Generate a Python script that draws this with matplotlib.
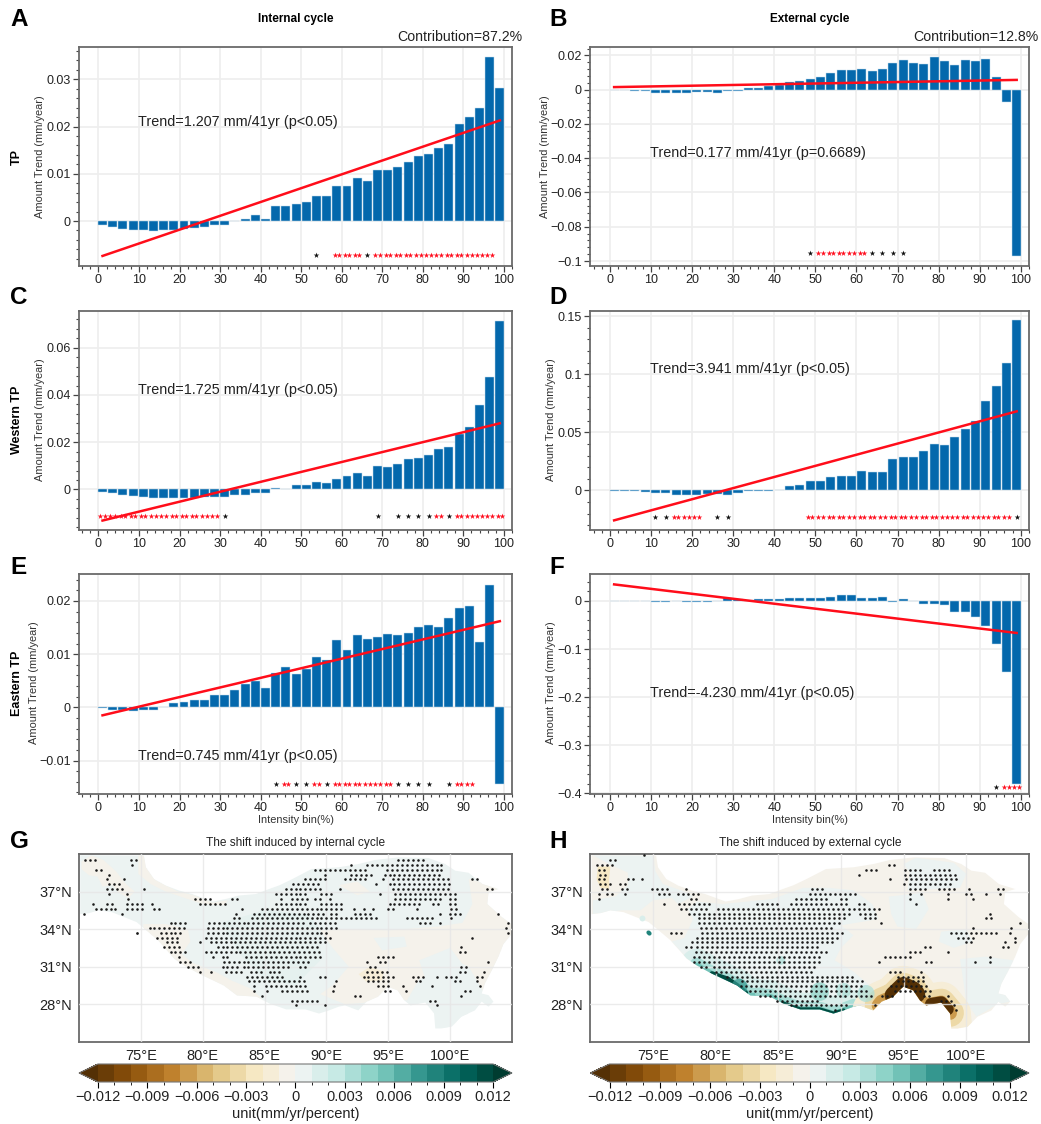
import matplotlib
matplotlib.use('Agg')
import matplotlib.pyplot as plt
import numpy as np
from matplotlib.colors import BoundaryNorm
from matplotlib.patches import Polygon

plt.rcParams['font.family'] = ['Liberation Sans', 'DejaVu Sans']

W, H = 1041, 1124

# bar panels: 40 intensity bins
n_bins = 40
a_vals = [-0.0008, -0.0012, -0.0016, -0.0018, -0.0020, -0.0021, -0.0020, -0.0018, -0.0016, -0.0015,
          -0.0012, -0.0008, -0.0008, -0.0001, 0.0005, 0.0013, 0.0005, 0.0032, 0.0032, 0.0035,
          0.0041, 0.0053, 0.0052, 0.0075, 0.0075, 0.0091, 0.0085, 0.0108, 0.0108, 0.0114,
          0.0126, 0.0137, 0.0142, 0.0155, 0.0164, 0.0205, 0.0220, 0.0239, 0.0347, 0.0281]
b_vals = [-0.0003, -0.0004, -0.0005, -0.0007, -0.0018, -0.0020, -0.0021, -0.0019, -0.0016, -0.0013,
          -0.0021, -0.0005, -0.0008, 0.0007, 0.0012, 0.0022, 0.0025, 0.0046, 0.0051, 0.0064,
          0.0074, 0.0097, 0.0114, 0.0117, 0.0119, 0.0107, 0.0118, 0.0153, 0.0175, 0.0155,
          0.0152, 0.0190, 0.0167, 0.0143, 0.0175, 0.0165, 0.0180, 0.0075, -0.0073, -0.0970]
c_vals = [-0.0012, -0.0017, -0.0022, -0.0027, -0.0033, -0.0035, -0.0036, -0.0038, -0.0037, -0.0035,
          -0.0033, -0.0033, -0.0032, -0.0025, -0.0023, -0.0016, -0.0016, 0.0007, 0.0003, 0.0019,
          0.0018, 0.0031, 0.0029, 0.0043, 0.0055, 0.0071, 0.0058, 0.0098, 0.0096, 0.0108,
          0.0130, 0.0135, 0.0145, 0.0172, 0.0180, 0.0235, 0.0263, 0.0356, 0.0475, 0.0715]
d_vals = [-0.0004, -0.0007, -0.0007, -0.0017, -0.0023, -0.0025, -0.0038, -0.0040, -0.0040, -0.0033,
          -0.0033, -0.0040, -0.0024, -0.0006, -0.0004, -0.0002, 0.0007, 0.0035, 0.0045, 0.0077,
          0.0080, 0.0112, 0.0124, 0.0124, 0.0163, 0.0155, 0.0160, 0.0272, 0.0288, 0.0288,
          0.0340, 0.0402, 0.0394, 0.0460, 0.0525, 0.0595, 0.0768, 0.0900, 0.1095, 0.1462]
e_vals = [-0.0001, -0.0005, -0.0005, -0.0006, -0.0005, -0.0005, 0.0001, 0.0008, 0.0010, 0.0014,
          0.0014, 0.0023, 0.0023, 0.0033, 0.0044, 0.0050, 0.0036, 0.0064, 0.0076, 0.0063,
          0.0072, 0.0094, 0.0089, 0.0126, 0.0108, 0.0136, 0.0129, 0.0133, 0.0137, 0.0136,
          0.0140, 0.0151, 0.0155, 0.0151, 0.0168, 0.0186, 0.0191, 0.0123, 0.0231, -0.0144]
f_vals = [-0.0005, -0.0004, -0.0010, -0.0010, -0.0012, -0.0015, -0.0005, -0.0012, -0.0015, -0.0015,
          0.0003, 0.0055, 0.0035, 0.0015, 0.0040, 0.0040, 0.0050, 0.0060, 0.0058, 0.0052,
          0.0065, 0.0090, 0.0120, 0.0125, 0.0068, 0.0072, 0.0075, -0.0012, 0.0050, -0.0010,
          -0.0055, -0.0060, -0.0085, -0.0225, -0.0220, -0.0340, -0.0510, -0.0895, -0.1480, -0.3800]

# trend line ends at bins 1 and 99
a_line = [-0.0074, 0.0213]
b_line = [0.0015, 0.0057]
c_line = [-0.0132, 0.0280]
d_line = [-0.0258, 0.0680]
e_line = [-0.0015, 0.0162]
f_line = [0.0345, -0.0665]

# significant bins (index), black = weak, red = strong
a_black = [21, 26]
a_red = [23, 24, 25] + list(range(27, 39))
b_black = [19, 25, 26, 27, 28]
b_red = [20, 21, 22, 23, 24]
c_black = [12, 27, 29, 30, 31, 32, 34]
c_red = list(range(0, 12)) + [33, 35, 36, 37, 38, 39]
d_black = [4, 5, 10, 11, 39]
d_red = [6, 7, 8] + list(range(19, 39))
e_black = [17, 19, 20, 22, 29, 30, 31, 32, 34]
e_red = [18, 21, 23, 24, 25, 26, 27, 28, 35, 36]
f_black = [37]
f_red = [38, 39]

# Tibetan Plateau outline
tp_lon = [70.1, 75.25, 75.4, 76.06, 77.0, 78.09, 79.16, 80.8, 81.86, 82.9, 84.3, 85.36, 86.2, 87.25, 88.8, 91.0, 92.6,
          93.9, 95.8, 98.24, 99.6, 100.4, 101.5, 102.6, 103.9, 103.1, 103.0, 104.17, 104.95, 104.95, 104.3, 103.9,
          103.36, 102.8, 102.55, 103.1, 103.5, 103.1, 102.55, 102.0, 100.9, 100.1, 99.3, 98.8, 98.7, 98.0, 96.8, 96.3,
          95.76, 94.97, 94.17, 93.24, 92.57, 91.5, 91.0, 90.2, 89.4, 88.3, 86.75, 85.4, 84.36, 82.77, 81.7, 79.7, 78.5,
          77.7, 76.4, 75.3, 74.65, 74.0, 72.66, 71.6, 70.8, 70.1]
tp_lat = [39.9, 39.87, 38.94, 38.0, 37.48, 37.08, 36.8, 36.2, 36.4, 36.68, 36.8, 37.2, 37.5, 38.0, 38.8, 38.94, 39.2,
          39.52, 39.73, 39.68, 39.2, 38.67, 38.5, 37.6, 37.2, 36.95, 36.0, 34.96, 34.4, 33.6, 32.8, 31.8,
          30.7, 29.65, 28.85, 28.72, 28.2, 27.8, 28.2, 27.5, 27.0, 26.2, 26.06, 26.06, 27.26, 28.13, 27.9, 28.3,
          29.1, 29.4, 28.6, 28.2, 27.5, 27.9, 27.8, 27.5, 27.25, 27.58, 27.58, 28.05, 28.6, 28.7, 29.5, 30.44, 31.1,
          31.64, 33.1, 34.03, 34.56, 34.82, 35.35, 35.5, 35.27, 35.2]

# pale field of each map: base value, then (value, lons, lats)
g_base = 0.0005
g_patches = [
    (-0.0005, [75.2, 75.5, 76.2, 78, 79.3, 80.8, 82, 81.8, 80, 78.5, 77, 75.8, 74.8, 74.8],
     [39.95, 38.8, 37.9, 37, 36.7, 36.1, 36.3, 35.9, 36, 36.5, 37, 37.6, 38.4, 39.95]),
    (-0.0005, [70.2, 71, 72, 73, 73.8, 74.5, 74, 73.2, 72.7, 71.9, 71.5, 70.8, 70.2],
     [39.4, 39.9, 39.5, 38.6, 37.6, 37, 36.5, 36.9, 37.5, 37.4, 38.2, 38.3, 38.8]),
    (-0.0005, [75.2, 77, 78.8, 79, 78.3, 79.2, 81.2, 82.3, 84, 85, 84, 82.5, 81.7, 79.7, 77.7, 76.3, 75.2],
     [34.4, 34.4, 34, 33, 32, 31.3, 30.5, 29.9, 29.2, 28.2, 28.2, 28.6, 29.4, 30.3, 31.5, 33, 34]),
    (-0.0005, [89.5, 92, 95, 99, 101, 101.8, 101.5, 103.5, 105, 105, 103, 102.7, 101.5, 100.4, 99, 97.5, 96.5, 94.5, 93,
               91.5, 89.5, 90.5, 91.8, 90.5],
     [33.9, 34, 33.9, 34.2, 34.5, 36, 38, 37.5, 36, 33, 30, 29, 31, 31.5, 30.5, 30, 28.3, 28.5, 28.1, 28, 28.8, 29.5,
      31, 32.5]),
    (-0.0005, [91, 92.5, 93.5, 92.5], [37.5, 37.8, 37, 36.7]),
    (0.0005, [93.8, 96.3, 96.5, 94.5], [33.3, 33.4, 32.6, 32.3]),
    (0.0005, [97.5, 100, 101, 100.8, 99.8, 98.5, 98], [31.5, 32.5, 31.2, 28.5, 27.7, 28.6, 30]),
    (0.0005, [99.5, 101.5, 100.5, 99.4], [27.2, 27.3, 26.3, 26.1]),
    (-0.0012, [92.6, 93.5, 94.6, 94.5, 93.2], [30.4, 31, 30.6, 29.9, 29.8]),
]
g_core_lon = [81.5, 85, 88.5, 89.5, 89.5, 87.5, 85, 83]
g_core_lat = [34.5, 35.5, 35.2, 34, 31.5, 29.5, 30, 32]
h_base = -0.0005
h_patches = [
    (0.0005, [70.2, 75, 75.2, 75.8, 77.5, 78.2, 77, 76.5, 75, 74, 72.5, 71, 70.2, 70.2, 72, 73, 73, 71.5],
     [39.9, 39.9, 38.6, 37.6, 37, 36.6, 36, 36.5, 36.3, 35.5, 35.5, 35.3, 35.2, 36.3, 36.6, 37.5, 38.5, 39.2]),
    (0.0005, [78.5, 80.5, 82.5, 84.5, 87, 89, 91, 92.5, 93, 90, 91, 90, 89.5, 91, 92.3, 92.6, 91, 88, 85, 83, 81, 79,
              77.5, 76.5, 77.5, 78.2, 77.8],
     [36.2, 36, 36.2, 36.4, 37.3, 37.3, 37.1, 36, 34.8, 34.3, 33.5, 32.5, 31.5, 30.6, 29.5, 28, 27.6, 27.4, 28.2, 28.6,
      29.6, 30.8, 31.9, 33, 33.3, 34.8, 35.6]),
    (0.0005, [95.3, 95.5, 95, 96, 99, 100, 99.5, 97.5], [37.1, 38.5, 39.2, 39.7, 39.3, 38.4, 37.3, 37.2]),
    (0.0005, [93.8, 96.5, 97, 96, 94.5, 94], [36.6, 36.9, 35.6, 34, 34.2, 35.2]),
    (0.0005, [99.5, 101.5, 103.8, 103, 103.5, 102.5, 100.8, 100], [31.6, 31.8, 31.5, 29.6, 28.2, 28, 27, 28.2]),
    (0.0005, [98, 100, 100.5, 99, 97.8], [33.8, 34, 33, 32.5, 33]),
    (-0.0025, [70.6, 71.6, 71.5, 71.5, 70.8, 70.5], [39, 39, 38, 37.2, 37.3, 38]),
]

# strong features of the external map, run along the southern edge
teal_lon = [78.5, 79.7, 81.7, 82.77, 84.36, 85.4, 86.75, 88.3, 89.4, 90.2, 91.0]
teal_lat = [31.1, 30.44, 29.5, 28.7, 28.6, 28.05, 27.58, 27.58, 27.25, 27.5, 27.8]
teal_dark_lon = [79.7, 81.0, 81.7, 82.4]
teal_dark_lat = [30.44, 30.0, 29.5, 28.9]
teal_dark2_lon = [85.4, 86.75, 88.3, 89.4, 90.2]
teal_dark2_lat = [28.05, 27.58, 27.58, 27.25, 27.5]
teal_blob_lon = [81.9, 85.2, 88.3, 90.2, 92.0, 83.6]
teal_blob_lat = [29.4, 31.5, 29.0, 29.1, 28.85, 28.9]
teal_blob_size = [130, 40, 180, 120, 150, 70]
teal_blob_val = [0.007, 0.003, 0.004, 0.003, 0.003, 0.003]
brown_lon = [92.57, 93.24, 94.17, 94.97, 95.76, 96.3, 96.8, 98.0, 98.7, 98.8]
brown_lat = [27.5, 28.2, 28.6, 29.4, 29.1, 28.3, 27.9, 28.13, 27.26, 26.1]
brown_mid_lon = [93.0, 93.24, 94.17, 94.97, 95.76, 96.3, 96.8, 98.0, 98.7]
brown_mid_lat = [27.9, 28.2, 28.6, 29.4, 29.1, 28.3, 27.9, 28.13, 27.3]
brown_dark_lon = [94.2, 94.97, 95.76, 96.0]
brown_dark_lat = [28.7, 29.45, 29.1, 28.8]
brown_dark2_lon = [97.2, 98.0, 98.5]
brown_dark2_lat = [28.0, 28.13, 27.6]

# stippling: (lat, [(lon start, lon end), ...]) runs
g_dots = [
    (39.52, [(70.5, 71.4), (74.2, 74.9), (95.8, 98.1)]),
    (39.12, [(74.3, 74.6), (92.0, 92.0), (93.3, 99.6)]),
    (38.73, [(71.35, 71.75), (89.1, 93.1), (94.9, 99.3)]),
    (38.35, [(72.4, 72.7), (89.9, 90.2), (92.0, 93.7), (94.7, 99.2)]),
    (37.98, [(72.3, 72.6), (73.6, 73.6), (88.3, 89.9), (91.5, 93.3), (94.6, 94.6), (95.4, 100.1), (101.75, 102.15)]),
    (37.58, [(72.4, 73.5), (87.3, 89.35), (94.0, 94.0), (95.1, 100.1)]),
    (37.21, [(72.3, 73.6), (75.26, 75.26), (86.7, 89.5), (91.1, 91.1), (95.4, 99.9), (103.0, 103.4)]),
    (36.81, [(72.4, 72.4), (73.9, 73.9), (85.9, 88.3), (89.6, 90.6), (94.3, 94.3), (95.55, 100.0), (100.4, 100.7)]),
    (36.42, [(74.0, 74.0), (79.4, 80.8), (82.4, 82.8), (86.3, 86.3), (87.25, 88.4), (89.1, 89.5), (90.3, 90.3),
             (95.55, 99.3), (100.0, 100.4)]),
    (36.02, [(71.1, 71.4), (72.3, 72.8), (73.9, 75.1), (75.9, 75.9), (79.8, 82.1), (85.9, 88.4), (89.6, 91.5),
             (95.1, 97.8), (98.65, 99.2), (100.0, 100.55)]),
    (35.62, [(71.35, 73.0), (73.9, 75.1), (76.06, 76.5), (83.2, 83.2), (84.8, 91.5), (92.2, 92.2), (93.0, 93.0),
             (93.8, 93.8), (95.0, 95.4), (97.3, 97.3), (100.1, 100.55)]),
    (35.22, [(70.4, 70.7), (73.5, 73.5), (82.7, 82.7), (84.15, 89.75), (90.4, 91.0), (92.3, 93.8), (99.2, 99.5),
             (100.0, 100.8), (103.9, 103.9)]),
    (34.85, [(82.5, 82.9), (84.0, 94.2), (96.5, 98.5), (100.1, 100.1)]),
    (34.45, [(77.4, 78.6), (80.5, 88.3), (88.7, 91.0), (97.6, 98.4), (99.2, 99.2), (104.7, 105.0)]),
    (34.05, [(75.7, 78.6), (80.4, 91.0), (104.5, 104.85)]),
    (33.68, [(74.7, 74.7), (76.6, 78.4), (80.4, 90.3), (104.7, 104.7)]),
    (33.31, [(76.3, 78.0), (80.3, 90.3), (101.75, 101.75)]),
    (32.94, [(77.1, 78.0), (79.8, 79.8), (80.65, 90.15)]),
    (32.54, [(76.9, 78.4), (81.2, 89.5), (100.9, 100.9)]),
    (32.14, [(77.4, 78.6), (80.3, 82.7), (83.0, 89.6), (100.8, 101.2)]),
    (31.77, [(78.1, 78.1), (80.8, 80.8), (81.6, 82.1), (83.5, 89.5), (94.2, 95.4)]),
    (31.37, [(78.2, 79.0), (81.7, 88.5), (93.3, 93.3), (94.3, 94.9), (103.1, 103.1)]),
    (30.97, [(78.8, 79.7), (81.6, 82.9), (83.3, 87.25), (87.9, 88.3), (93.5, 94.2), (100.9, 101.35)]),
    (30.6, [(79.8, 79.8), (80.65, 80.9), (81.9, 83.1), (83.9, 84.7), (85.4, 86.4), (93.3, 94.9), (100.8, 101.3),
            (102.7, 102.7)]),
    (30.2, [(83.6, 86.4), (87.9, 87.9), (89.5, 89.9), (93.0, 95.4), (97.0, 98.1), (98.9, 98.9), (99.7, 100.55),
            (102.15, 102.55)]),
    (29.83, [(83.75, 88.5), (90.8, 90.8), (93.4, 95.3), (97.2, 97.6), (100.4, 101.1), (102.15, 102.15)]),
    (29.43, [(84.15, 84.15), (85.1, 88.3), (90.6, 90.6), (94.2, 95.1), (96.2, 96.2), (98.5, 98.5), (102.4, 102.4)]),
    (29.06, [(84.15, 84.15), (85.2, 85.2), (86.4, 88.5), (90.5, 90.5), (94.7, 95.1), (96.4, 96.4), (101.2, 101.9)]),
    (28.67, [(84.8, 84.8), (92.3, 92.7), (100.9, 100.9)]),
    (28.27, [(87.25, 89.35), (98.4, 98.8)]),
    (27.9, [(87.5, 87.5), (89.9, 89.9), (98.9, 98.9)]),
]
h_dots = [
    (39.95, [(74.3, 74.3)]),
    (39.52, [(71.6, 72.3)]),
    (39.12, [(70.5, 72.0), (93.8, 94.2)]),
    (38.75, [(70.7, 71.2), (92.0, 92.8), (95.1, 96.3), (97.4, 98.6)]),
    (38.35, [(70.8, 71.2), (91.4, 91.4), (95.1, 99.2)]),
    (37.98, [(70.7, 71.1), (73.0, 73.4), (74.1, 74.1), (93.9, 93.9), (95.2, 99.35)]),
    (37.58, [(70.8, 71.6), (72.4, 72.8), (95.0, 95.0), (95.5, 98.8)]),
    (37.21, [(70.9, 71.3), (72.5, 72.9), (74.9, 76.1), (77.6, 77.6), (87.65, 88.45), (95.5, 96.7), (97.8, 99.0),
             (100.2, 100.2), (102.55, 102.95)]),
    (36.81, [(70.7, 70.7), (71.3, 72.0), (72.8, 72.8), (75.45, 76.4), (77.0, 78.64), (87.5, 91.1), (95.5, 95.5),
             (96.4, 96.4), (98.55, 98.55), (100.0, 100.5), (101.6, 101.6), (102.7, 102.7)]),
    (36.42, [(70.7, 70.7), (78.0, 78.6), (86.4, 89.1), (90.0, 90.4), (95.5, 95.5), (98.55, 98.55), (100.5, 100.5)]),
    (36.02, [(75.9, 75.9), (77.05, 79.44), (83.3, 84.9), (86.0, 90.6), (91.4, 91.8), (96.0, 96.0)]),
    (35.62, [(77.2, 79.3), (80.2, 93.0)]),
    (35.22, [(77.85, 90.85), (91.5, 93.0), (101.9, 101.9)]),
    (34.85, [(78.64, 90.4), (91.9, 92.8), (101.6, 102.0)]),
    (34.45, [(78.64, 90.0), (93.2, 93.2), (104.3, 104.3)]),
    (34.05, [(78.8, 89.4), (100.5, 100.5), (103.6, 103.6)]),
    (33.68, [(76.4, 77.3), (78.9, 90.2), (98.8, 102.4), (103.5, 103.5)]),
    (33.31, [(78.5, 89.9), (99.35, 100.8), (103.9, 103.9)]),
    (32.94, [(78.1, 89.5), (100.0, 100.7), (103.1, 103.1), (103.9, 103.9)]),
    (32.54, [(77.6, 78.0), (78.5, 88.3), (96.7, 97.1), (102.95, 103.35)]),
    (32.14, [(78.4, 88.85), (95.5, 96.3), (98.55, 98.55)]),
    (31.77, [(78.25, 88.6), (93.5, 95.6), (101.9, 101.9)]),
    (31.37, [(78.25, 88.3), (93.0, 93.0), (96.8, 97.2), (100.7, 100.7), (101.9, 101.9)]),
    (30.97, [(78.8, 79.2), (79.84, 87.8)]),
    (30.6, [(80.0, 87.8), (93.9, 95.0), (96.4, 96.4)]),
    (30.2, [(80.9, 91.0), (94.57, 96.7)]),
    (29.83, [(82.1, 91.75), (94.57, 96.8)]),
    (29.43, [(82.0, 91.75), (94.0, 96.8)]),
    (29.06, [(82.77, 92.3), (94.3, 97.2)]),
    (28.67, [(83.56, 92.6), (93.24, 94.03), (96.6, 97.1), (98.55, 98.55)]),
    (28.27, [(84.9, 88.3), (98.0, 98.8)]),
    (27.9, [(86.0, 90.45), (92.7, 92.7), (99.0, 99.0)]),
    (27.52, [(89.5, 89.7), (99.2, 99.2)]),
]

cb_ticks = [-0.012, -0.009, -0.006, -0.003, 0, 0.003, 0.006, 0.009, 0.012]
levels = np.linspace(-0.012, 0.012, 25)
cmap = plt.get_cmap('BrBG', 26)
norm = BoundaryNorm(levels, 26, extend='both')


def px_axes(fig, left, top, right, bottom):
    return fig.add_axes([left / W, 1 - bottom / H, (right - left) / W, (bottom - top) / H])


def put(fig, x, y, s, **kw):
    kw.setdefault('va', 'center')
    fig.text(x / W, 1 - y / H, s, **kw)


def tick_str(v):
    return f'{round(v, 4) + 0:g}'.replace('-', '\u2212')


def bar_panel(fig, box, vals, line, black, red, star_y, ylim, major, minor):
    ax = px_axes(fig, *box)
    x = np.linspace(1, 99, n_bins)
    ax.bar(x, vals, width=2.2, color='#0468ac', edgecolor='#c3dcec', linewidth=0.35, zorder=2)
    ax.plot([1, 99], line, color='#ff0d1a', lw=1.8, zorder=3)
    ax.scatter(x[black], [star_y] * len(black), marker='*', s=18, color='#111111', linewidths=0, zorder=4)
    xr = np.concatenate([x[red] - 0.55, x[red] + 0.55])
    ax.scatter(xr, [star_y] * len(xr), marker='*', s=18, color='#ff1020', linewidths=0, zorder=4)
    ax.set_xlim(-4.8, 102)
    ax.set_ylim(*ylim)
    ax.set_xticks(np.arange(0, 101, 10))
    ax.set_xticks(np.arange(-4, 103, 2), minor=True)
    yt = np.arange(np.ceil(ylim[0] / major), np.floor(ylim[1] / major) + 1) * major
    ax.set_yticks(yt)
    ax.set_yticklabels([tick_str(v) for v in yt])
    ax.set_yticks(np.arange(np.ceil(ylim[0] / minor), np.floor(ylim[1] / minor) + 1) * minor, minor=True)
    ax.grid(True, which='major', color='#eeeeee', lw=1.2)
    ax.set_axisbelow(True)
    ax.tick_params(which='major', length=4, width=0.9, labelsize=9, color='#444444', labelcolor='#222222', pad=2)
    ax.tick_params(which='minor', length=2.2, width=0.8, color='#444444')
    for s in ax.spines.values():
        s.set_color('#6a6a6a')
        s.set_linewidth(1.3)
    return ax


def expand_dots(rows):
    lons, lats = [], []
    for lat, runs in rows:
        for lon0, lon1 in runs:
            for lon in np.arange(lon0, lon1 + 0.05, 0.4):
                lons.append(lon)
                lats.append(lat)
    return lons, lats


def val_color(v):
    return cmap(norm(v))


def map_panel(fig, box, base, patches, dots):
    ax = px_axes(fig, *box)
    ax.set_xlim(70, 105)
    ax.set_ylim(25, 40)
    outline = Polygon(np.column_stack([tp_lon, tp_lat]), closed=True, fc=val_color(base), ec='none', zorder=1)
    ax.add_patch(outline)
    for v, plon, plat in patches:
        p = Polygon(np.column_stack([plon, plat]), closed=True, fc=val_color(v), ec='none', zorder=1.1)
        ax.add_patch(p)
        p.set_clip_path(outline)
    ax.set_xticks([75, 80, 85, 90, 95, 100])
    ax.set_xticklabels(['75°E', '80°E', '85°E', '90°E', '95°E', '100°E'])
    ax.set_yticks([28, 31, 34, 37])
    ax.set_yticklabels(['28°N', '31°N', '34°N', '37°N'])
    ax.grid(True, color='#e6e6e6', lw=1.0, alpha=0.8)
    ax.set_axisbelow(False)
    ax.tick_params(length=0, labelsize=10.5, labelcolor='#222222', pad=5)
    for s in ax.spines.values():
        s.set_color('#6a6a6a')
        s.set_linewidth(1.3)
    lons, lats = expand_dots(dots)
    ax.scatter(lons, lats, s=3.4, color='#1a1a1a', linewidths=0, zorder=5)
    return ax, outline


def clipped_line(ax, outline, lon, lat, v, lw):
    ln, = ax.plot(lon, lat, color=val_color(v), lw=lw, solid_capstyle='round', solid_joinstyle='round', zorder=1.5)
    ln.set_clip_path(outline)


def colorbar_panel(fig, left, right, top, bottom):
    cax = px_axes(fig, left, top, right, bottom)
    sm = plt.cm.ScalarMappable(norm=norm, cmap=cmap)
    cb = fig.colorbar(sm, cax=cax, orientation='horizontal', extend='both', extendfrac=0.048,
                      ticks=cb_ticks, spacing='uniform', drawedges=False)
    cb.ax.set_xticklabels([tick_str(v) for v in cb_ticks])
    cb.ax.tick_params(length=4, width=0.8, labelsize=10.5, labelcolor='#222222', pad=2)
    cb.outline.set_edgecolor('#777777')
    cb.outline.set_linewidth(0.8)


fig = plt.figure(figsize=(W / 100, H / 100), dpi=100)

L_box = (79, 512)
R_box = (590.3, 1029)

bar_panel(fig, (L_box[0], 47, L_box[1], 266), a_vals, a_line, a_black, a_red, -0.0073, (-0.00953, 0.03685), 0.01, 0.002)
bar_panel(fig, (R_box[0], 47, R_box[1], 266), b_vals, b_line, b_black, b_red, -0.0955, (-0.1029, 0.0249), 0.02, 0.004)
bar_panel(fig, (L_box[0], 310.7, L_box[1], 530), c_vals, c_line, c_black, c_red, -0.0113, (-0.0172, 0.0757), 0.02, 0.004)
bar_panel(fig, (R_box[0], 310.7, R_box[1], 530), d_vals, d_line, d_black, d_red, -0.0227, (-0.0341, 0.1546), 0.05, 0.01)
bar_panel(fig, (L_box[0], 574.3, L_box[1], 793.7), e_vals, e_line, e_black, e_red, -0.0144, (-0.01624, 0.02502), 0.01, 0.002)
bar_panel(fig, (R_box[0], 574.3, R_box[1], 793.7), f_vals, f_line, f_black, f_red, -0.3875, (-0.4007, 0.0555), 0.1, 0.02)

ax_g, out_g = map_panel(fig, (L_box[0], 854, L_box[1], 1041.7), g_base, g_patches, g_dots)
ax_h, out_h = map_panel(fig, (R_box[0], 854, R_box[1], 1041.7), h_base, h_patches, h_dots)

# internal map: slightly stronger teal in the stippled core
core = Polygon(np.column_stack([g_core_lon, g_core_lat]), closed=True, fc=val_color(0.0015), ec='none', alpha=0.35,
               zorder=1.2)
ax_g.add_patch(core)

# external map: soft teal and brown edge bands
clipped_line(ax_h, out_h, teal_lon, teal_lat, 0.0015, 24)
clipped_line(ax_h, out_h, teal_lon, teal_lat, 0.003, 11)
clipped_line(ax_h, out_h, teal_lon, teal_lat, 0.006, 4)
bl = ax_h.scatter(teal_blob_lon, teal_blob_lat, s=teal_blob_size, c=[val_color(v) for v in teal_blob_val],
                  linewidths=0, alpha=0.7, zorder=1.6)
bl.set_clip_path(out_h)
clipped_line(ax_h, out_h, teal_dark_lon, teal_dark_lat, 0.011, 3.5)
clipped_line(ax_h, out_h, teal_dark2_lon, teal_dark2_lat, 0.011, 3)
clipped_line(ax_h, out_h, brown_lon, brown_lat, -0.002, 30)
clipped_line(ax_h, out_h, brown_mid_lon, brown_mid_lat, -0.004, 20)
clipped_line(ax_h, out_h, brown_mid_lon, brown_mid_lat, -0.007, 10)
clipped_line(ax_h, out_h, brown_dark_lon, brown_dark_lat, -0.0125, 13)
clipped_line(ax_h, out_h, brown_dark2_lon, brown_dark2_lat, -0.0125, 9)
ax_h.scatter([74.6, 74.7], [33.75, 33.65], s=9, color=val_color(0.009), linewidths=0, zorder=2)
ax_h.scatter([74.1], [34.85], s=18, color=val_color(0.0015), linewidths=0, zorder=2)
ax_g.scatter([74.7], [33.68], s=3, color='#777777', linewidths=0, zorder=2)

colorbar_panel(fig, L_box[0], L_box[1], 1064, 1082)
colorbar_panel(fig, R_box[0], R_box[1], 1064, 1082)

# text
letters = [('A', 10, 20), ('B', 549, 20), ('C', 10, 298), ('D', 549, 298), ('E', 10, 568), ('F', 549, 568),
           ('G', 10, 841), ('H', 549, 841)]
for s, x, y in letters:
    put(fig, x, y, s, fontsize=17.5, fontweight='bold', color='black')

put(fig, 296, 19, 'Internal cycle', fontsize=8.5, fontweight='bold', ha='center')
put(fig, 810, 19, 'External cycle', fontsize=8.5, fontweight='bold', ha='center')
put(fig, 522, 37, 'Contribution=87.2%', fontsize=10.2, ha='right', color='#222222')
put(fig, 1038, 37, 'Contribution=12.8%', fontsize=10.2, ha='right', color='#222222')

trend_txt = [(138, 122, 'Trend=1.207 mm/41yr (p<0.05)'), (650, 153, 'Trend=0.177 mm/41yr (p=0.6689)'),
             (138, 390, 'Trend=1.725 mm/41yr (p<0.05)'), (650, 369, 'Trend=3.941 mm/41yr (p<0.05)'),
             (138, 756, 'Trend=0.745 mm/41yr (p<0.05)'), (650, 693, 'Trend=-4.230 mm/41yr (p<0.05)')]
for x, y, s in trend_txt:
    put(fig, x, y, s, fontsize=10.4, color='#222222')

ylab = [(40, 157), (545, 157), (40, 420), (551, 420), (34, 683), (551, 683)]
for x, y in ylab:
    put(fig, x, y, 'Amount Trend (mm/year)', fontsize=7.9, rotation=90, ha='center', color='#333333')
for x, y, s in [(17, 157, 'TP'), (17, 420, 'Western TP'), (17, 683, 'Eastern TP')]:
    put(fig, x, y, s, fontsize=9, fontweight='bold', rotation=90, ha='center')
put(fig, 296, 820, 'Intensity bin(%)', fontsize=7.9, ha='center', color='#333333')
put(fig, 810, 820, 'Intensity bin(%)', fontsize=7.9, ha='center', color='#333333')

put(fig, 296, 843, 'The shift induced by internal cycle', fontsize=8.6, ha='center', color='#222222')
put(fig, 810, 843, 'The shift induced by external cycle', fontsize=8.6, ha='center', color='#222222')
put(fig, 296, 1114, 'unit(mm/yr/percent)', fontsize=10.5, ha='center', color='#222222')
put(fig, 810, 1114, 'unit(mm/yr/percent)', fontsize=10.5, ha='center', color='#222222')

fig.savefig('out.png', dpi=100)
